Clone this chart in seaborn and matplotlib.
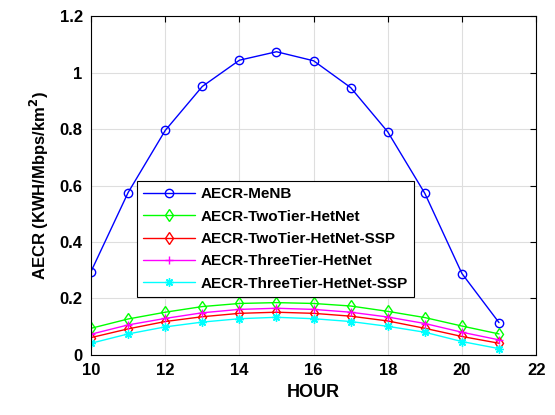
import numpy as np
import pandas as pd
import matplotlib
matplotlib.use("Agg")
import matplotlib.pyplot as plt
import seaborn as sns

hours = [10, 11, 12, 13, 14, 15, 16, 17, 18, 19, 20, 21]
menb = [0.295, 0.575, 0.795, 0.951, 1.044, 1.074, 1.042, 0.947, 0.790, 0.572, 0.288, 0.114]
two_tier = [0.094, 0.127, 0.151, 0.171, 0.182, 0.185, 0.182, 0.173, 0.154, 0.132, 0.102, 0.074]
two_tier_ssp = [0.061, 0.092, 0.118, 0.135, 0.147, 0.151, 0.147, 0.137, 0.120, 0.094, 0.065, 0.041]
three_tier = [0.073, 0.106, 0.129, 0.149, 0.161, 0.165, 0.161, 0.151, 0.134, 0.111, 0.080, 0.053]
three_tier_ssp = [0.041, 0.074, 0.099, 0.116, 0.128, 0.133, 0.128, 0.118, 0.101, 0.080, 0.047, 0.022]

labels = ['AECR-MeNB', 'AECR-TwoTier-HetNet', 'AECR-TwoTier-HetNet-SSP',
          'AECR-ThreeTier-HetNet', 'AECR-ThreeTier-HetNet-SSP']
series = [menb, two_tier, two_tier_ssp, three_tier, three_tier_ssp]
colors = ['#0000ff', '#00ff00', '#ff0000', '#ff00ff', '#00ffff']
markers = ['o', 'd', 'd', '+', (8, 2, 0)]

sns.set_style("whitegrid")
plt.rcParams['font.family'] = ['Liberation Sans', 'DejaVu Sans']
plt.rcParams['font.weight'] = 'bold'
plt.rcParams['axes.labelweight'] = 'bold'
plt.rcParams['text.color'] = 'black'
plt.rcParams['axes.labelcolor'] = 'black'
plt.rcParams['xtick.color'] = 'black'
plt.rcParams['ytick.color'] = 'black'

fig = plt.figure(figsize=(5.55, 4.15), dpi=100)
ax = fig.add_axes([0.164, 0.145, 0.802, 0.816])

for lab, vals, c, m in zip(labels, series, colors, markers):
    sns.lineplot(x=hours, y=vals, ax=ax, color=c, marker=m, markersize=6,
                 markerfacecolor='none', markeredgecolor=c, markeredgewidth=1,
                 linewidth=1, label=lab)

ax.set_xlim(10, 22)
ax.set_ylim(0, 1.2)
ax.set_xticks([10, 12, 14, 16, 18, 20, 22])
ax.set_yticks([0, 0.2, 0.4, 0.6, 0.8, 1.0, 1.2])
ax.set_yticklabels(['0', '0.2', '0.4', '0.6', '0.8', '1', '1.2'])
ax.tick_params(axis='both', direction='in', length=4, width=0.8, labelsize=12,
               colors='black', labelcolor='black', top=True, right=True, pad=6)
for lbl in ax.get_xticklabels() + ax.get_yticklabels():
    lbl.set_fontweight('bold')
ax.grid(True, color='#dedede', linewidth=0.8)
for sp in ax.spines.values():
    sp.set_color('black')
    sp.set_linewidth(0.8)

ax.set_xlabel('HOUR', fontsize=13, fontweight='bold', color='black', labelpad=4)
ax.set_ylabel('AECR (KWH/Mbps/km$^{\\mathbf{2}}$)', fontsize=12, fontweight='bold',
              color='black', labelpad=6)

leg = ax.legend(loc='upper left', bbox_to_anchor=(0.103, 0.513), fontsize=11,
                frameon=True, fancybox=False, framealpha=1, edgecolor='black',
                borderpad=0.4, labelspacing=0.55, handlelength=3.4, handletextpad=0.4,
                borderaxespad=0)
leg.get_frame().set_linewidth(0.8)
for t in leg.get_texts():
    t.set_fontweight('bold')
    t.set_color('black')

fig.savefig('out.png', dpi=100)
